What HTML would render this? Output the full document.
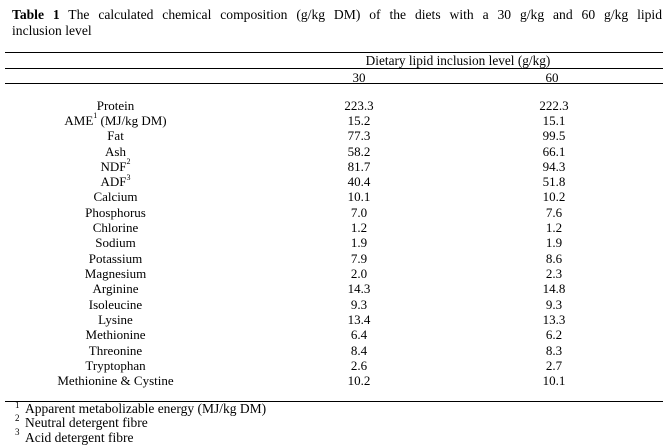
<!DOCTYPE html>
<html>
<head>
<meta charset="utf-8">
<style>
  html, body { margin:0; padding:0; background:#fff; }
  body { width:666px; height:448px; position:relative; overflow:hidden;
         font-family:"Liberation Serif", "Times New Roman", serif; color:#000; }
  .title { position:absolute; left:12px; width:650px; font-size:13.6px; line-height:16px; }
  .j { text-align:justify; text-align-last:justify; }
  .hr { position:absolute; left:5px; width:658px; height:1px; background:#000; }
  .row { position:absolute; height:15px; line-height:15px; font-size:13px; white-space:nowrap; text-align:center; }
  .lab { left:0; width:231px; }
  .c1 { left:309px; width:100px; }
  .c2 { left:504px; width:100px; }
  sup { font-size:8px; line-height:0; position:relative; top:-1px; vertical-align:super; }
  .fn { position:absolute; left:25px; font-size:13.5px; line-height:15px; height:15px; white-space:nowrap; }
  .fs { position:absolute; left:15px; font-size:9px; line-height:9px; }
</style>
</head>
<body>
  <div class="title j" style="top:7px;"><b>Table 1</b> The calculated chemical composition (g/kg DM) of the diets with a 30 g/kg and 60 g/kg lipid</div>
  <div class="title" style="top:23px;">inclusion level</div>

  <div class="hr" style="top:52px;"></div>
  <div class="row" style="top:53px; left:358px; width:200px; font-size:13.3px;">Dietary lipid inclusion level (g/kg)</div>
  <div class="hr" style="top:68px;"></div>
  <div class="row c1" style="top:69.5px;">30</div>
  <div class="row c2" style="top:69.5px; left:502px;">60</div>
  <div class="hr" style="top:83px;"></div>

  <div class="row lab" style="top:97.5px;">Protein</div>
  <div class="row c1" style="top:97.5px;">223.3</div>
  <div class="row c2" style="top:97.5px;">222.3</div>

  <div class="row lab" style="top:112.8px;">AME<sup>1</sup> (MJ/kg DM)</div>
  <div class="row c1" style="top:112.8px;">15.2</div>
  <div class="row c2" style="top:112.8px;">15.1</div>

  <div class="row lab" style="top:128.1px;">Fat</div>
  <div class="row c1" style="top:128.1px;">77.3</div>
  <div class="row c2" style="top:128.1px;">99.5</div>

  <div class="row lab" style="top:143.5px;">Ash</div>
  <div class="row c1" style="top:143.5px;">58.2</div>
  <div class="row c2" style="top:143.5px;">66.1</div>

  <div class="row lab" style="top:158.8px;">NDF<sup>2</sup></div>
  <div class="row c1" style="top:158.8px;">81.7</div>
  <div class="row c2" style="top:158.8px;">94.3</div>

  <div class="row lab" style="top:174.1px;">ADF<sup>3</sup></div>
  <div class="row c1" style="top:174.1px;">40.4</div>
  <div class="row c2" style="top:174.1px;">51.8</div>

  <div class="row lab" style="top:189.4px;">Calcium</div>
  <div class="row c1" style="top:189.4px;">10.1</div>
  <div class="row c2" style="top:189.4px;">10.2</div>

  <div class="row lab" style="top:204.7px;">Phosphorus</div>
  <div class="row c1" style="top:204.7px;">7.0</div>
  <div class="row c2" style="top:204.7px;">7.6</div>

  <div class="row lab" style="top:220.1px;">Chlorine</div>
  <div class="row c1" style="top:220.1px;">1.2</div>
  <div class="row c2" style="top:220.1px;">1.2</div>

  <div class="row lab" style="top:235.4px;">Sodium</div>
  <div class="row c1" style="top:235.4px;">1.9</div>
  <div class="row c2" style="top:235.4px;">1.9</div>

  <div class="row lab" style="top:250.7px;">Potassium</div>
  <div class="row c1" style="top:250.7px;">7.9</div>
  <div class="row c2" style="top:250.7px;">8.6</div>

  <div class="row lab" style="top:266.0px;">Magnesium</div>
  <div class="row c1" style="top:266.0px;">2.0</div>
  <div class="row c2" style="top:266.0px;">2.3</div>

  <div class="row lab" style="top:281.3px;">Arginine</div>
  <div class="row c1" style="top:281.3px;">14.3</div>
  <div class="row c2" style="top:281.3px;">14.8</div>

  <div class="row lab" style="top:296.7px;">Isoleucine</div>
  <div class="row c1" style="top:296.7px;">9.3</div>
  <div class="row c2" style="top:296.7px;">9.3</div>

  <div class="row lab" style="top:312.0px;">Lysine</div>
  <div class="row c1" style="top:312.0px;">13.4</div>
  <div class="row c2" style="top:312.0px;">13.3</div>

  <div class="row lab" style="top:327.3px;">Methionine</div>
  <div class="row c1" style="top:327.3px;">6.4</div>
  <div class="row c2" style="top:327.3px;">6.2</div>

  <div class="row lab" style="top:342.6px;">Threonine</div>
  <div class="row c1" style="top:342.6px;">8.4</div>
  <div class="row c2" style="top:342.6px;">8.3</div>

  <div class="row lab" style="top:357.9px;">Tryptophan</div>
  <div class="row c1" style="top:357.9px;">2.6</div>
  <div class="row c2" style="top:357.9px;">2.7</div>

  <div class="row lab" style="top:373.2px;">Methionine &amp; Cystine</div>
  <div class="row c1" style="top:373.2px;">10.2</div>
  <div class="row c2" style="top:373.2px;">10.1</div>

  <div class="hr" style="top:401px;"></div>

  <div class="fs" style="top:401px;">1</div>
  <div class="fn" style="top:400.5px;">Apparent metabolizable energy (MJ/kg DM)</div>
  <div class="fs" style="top:414px;">2</div>
  <div class="fn" style="top:415px;">Neutral detergent fibre</div>
  <div class="fs" style="top:428px;">3</div>
  <div class="fn" style="top:429.5px;">Acid detergent fibre</div>
</body>
</html>
